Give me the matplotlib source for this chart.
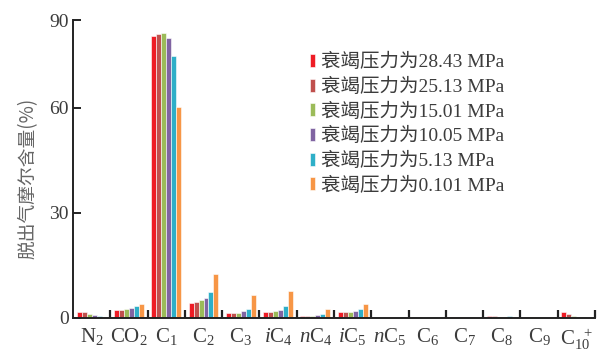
import numpy as np
import matplotlib
matplotlib.use("Agg")
import matplotlib.pyplot as plt
from matplotlib.ticker import FixedLocator

plt.rcParams['mathtext.fontset'] = 'custom'
plt.rcParams['mathtext.rm'] = 'Liberation Serif'
plt.rcParams['mathtext.it'] = 'Liberation Serif:italic'
plt.rcParams['font.family'] = ['Liberation Serif', 'Noto Sans CJK SC']

components = [r'$\mathrm{N}_2$', r'$\mathrm{CO}_2$', r'$\mathrm{C}_1$', r'$\mathrm{C}_2$',
              r'$\mathrm{C}_3$', r'$i\mathrm{C}_4$', r'$n\mathrm{C}_4$', r'$i\mathrm{C}_5$',
              r'$n\mathrm{C}_5$', r'$\mathrm{C}_6$', r'$\mathrm{C}_7$', r'$\mathrm{C}_8$',
              r'$\mathrm{C}_9$', r'$\mathrm{C}_{10}^{\ \ +}$']

pressures = ['28.43', '25.13', '15.01', '10.05', '5.13', '0.101']

p_28_43 = [1.6, 2.3, 80.4, 4.4, 1.4, 1.8, 0.5, 1.7, 0.0, 0.15, 0.2, 0.5, 0.3, 1.6]
p_25_13 = [1.6, 2.3, 81.0, 4.5, 1.4, 1.8, 0.5, 1.7, 0.0, 0.15, 0.2, 0.5, 0.3, 1.2]
p_15_01 = [1.2, 2.6, 81.3, 5.1, 1.5, 1.9, 0.5, 1.7, 0.0, 0.1, 0.15, 0.4, 0.15, 0.6]
p_10_05 = [0.9, 2.9, 79.9, 5.8, 1.9, 2.2, 0.8, 1.9, 0.0, 0.15, 0.15, 0.4, 0.1, 0.4]
p_5_13 = [0.5, 3.3, 74.7, 7.3, 2.7, 3.3, 1.2, 2.6, 0.0, 0.15, 0.15, 0.5, 0.1, 0.4]
p_0_101 = [0.1, 3.9, 60.2, 12.5, 6.5, 7.6, 2.7, 4.0, 0.15, 0.0, 0.0, 0.0, 0.0, 0.0]

series = [p_28_43, p_25_13, p_15_01, p_10_05, p_5_13, p_0_101]
colors = ['#ee1c25', '#c0504d', '#9bbb59', '#8064a2', '#2eafc8', '#f79646']

y_top = 85.0
y_ticks = [0, 30, 60, y_top]
y_ticklabels = ['0', '30', '60', '90']

text_color = '#3c3c3c'

fig = plt.figure(figsize=(5.97, 3.53), dpi=100)
ax = fig.add_axes([0.1223, 0.0992, 0.8743, 0.8438])

x = np.arange(len(components))
n = len(series)
width = 0.8 / n
for i, (vals, c) in enumerate(zip(series, colors)):
    offset = (i - (n - 1) / 2) * width
    ax.bar(x + offset, vals, width, color=c, edgecolor='white', linewidth=0.4,
           label=f'衰竭压力为{pressures[i]} MPa')

ax.set_xlim(-0.5, len(components) - 0.5)
ax.set_ylim(0, y_top)

ax.set_xticks(x)
ax.set_xticklabels(components, fontsize=15, color=text_color)
ax.xaxis.set_minor_locator(FixedLocator(np.arange(0.5, len(components), 1.0)))
ax.tick_params(axis='x', which='major', length=0, pad=6)
ax.tick_params(axis='x', which='minor', direction='in', length=6, width=1.6, color='#222222')

ax.set_yticks(y_ticks)
ax.set_yticklabels(y_ticklabels, fontsize=14, color=text_color)
ax.tick_params(axis='y', direction='in', length=6, width=1.4, color='#222222', pad=3)

for side in ['top', 'right']:
    ax.spines[side].set_visible(False)
for side in ['left', 'bottom']:
    ax.spines[side].set_linewidth(1.4)
    ax.spines[side].set_color('#222222')

ax.set_ylabel('脱出气摩尔含量(%)', fontsize=13.5, color='#666666',
              family=['Noto Sans CJK SC'])
ax.yaxis.set_label_coords(-0.065, 0.47)

leg = ax.legend(loc='upper left', bbox_to_anchor=(0.44, 0.915), frameon=False,
                fontsize=14, handlelength=0.25, handleheight=0.65, handletextpad=0.3,
                labelspacing=0.33, borderaxespad=0)
for t in leg.get_texts():
    t.set_color(text_color)

fig.savefig('out.png', dpi=100)
